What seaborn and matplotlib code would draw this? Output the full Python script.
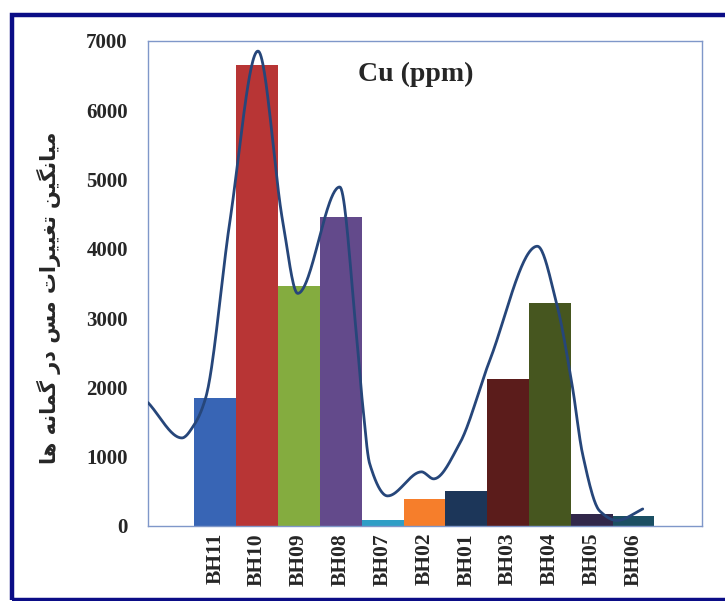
import numpy as np
import pandas as pd
import matplotlib
matplotlib.use("Agg")
import matplotlib.pyplot as plt
from matplotlib.patches import Rectangle
import seaborn as sns

# ---------------- data ----------------
categories = ["BH11", "BH10", "BH09", "BH08", "BH07", "BH02",
              "BH01", "BH03", "BH04", "BH05", "BH06"]
cu_values = [1840, 6650, 3465, 4450, 90, 390, 505, 2120, 3210, 170, 145]
bar_colors = ["#3865b5", "#b83535", "#84ac3f", "#634a8b", "#2f9ec6", "#f67e2b",
              "#1c3659", "#5b1c1b", "#46561f", "#31274a", "#1b4f63"]

# smoothed trend line (x in category units)
curve_x = [-1.61, -0.80, -0.49, -0.23, 0.35, 1.02, 1.61, 1.97, 2.975, 3.38,
           3.52, 3.69, 4.12, 4.93, 5.22, 5.84, 6.56, 7.70, 8.16, 8.54,
           8.78, 9.19, 9.60, 10.22]
curve_y = [1780, 1270, 1475, 1850, 4400, 6850, 4400, 3355, 4890, 2720,
           1765, 900, 434, 781, 680, 1186, 2386, 4035, 3211, 2000,
           1041, 217, 80, 246]

title = "Cu (ppm)"
# Persian y label: "میانگین تغییرات مس در گمانه ها" (shaped presentation forms, visual order)
ylabel_logical = ("\uFEE3\uFEF4\uFE8E\uFEE7\uFB95\uFEF4\uFEE6 "
                  "\uFE97\uFED0\uFEF4\uFEF4\uFEAE\uFE8D\uFE95 "
                  "\uFEE3\uFEB2 "
                  "\uFEA9\uFEAD "
                  "\uFB94\uFEE4\uFE8E\uFEE7\uFEEA "
                  "\uFEEB\uFE8E")
ylabel_text = ylabel_logical[::-1]


def pchip(x, y, xq):
    x = np.asarray(x, float)
    y = np.asarray(y, float)
    h = np.diff(x)
    d = np.diff(y) / h
    n = len(x)
    m = np.zeros(n)
    for k in range(1, n - 1):
        if d[k - 1] * d[k] <= 0:
            m[k] = 0.0
        else:
            w1 = 2 * h[k] + h[k - 1]
            w2 = h[k] + 2 * h[k - 1]
            m[k] = (w1 + w2) / (w1 / d[k - 1] + w2 / d[k])
    m[0] = d[0]
    m[-1] = d[-1]
    idx = np.clip(np.searchsorted(x, xq) - 1, 0, n - 2)
    t = (xq - x[idx]) / h[idx]
    h00 = 2 * t**3 - 3 * t**2 + 1
    h10 = t**3 - 2 * t**2 + t
    h01 = -2 * t**3 + 3 * t**2
    h11 = t**3 - t**2
    return (h00 * y[idx] + h10 * h[idx] * m[idx]
            + h01 * y[idx + 1] + h11 * h[idx] * m[idx + 1])


sns.set_style("white")
plt.rcParams["font.family"] = ["Liberation Serif", "DejaVu Sans"]

fig = plt.figure(figsize=(7.25, 6.01), dpi=100)
fig.patch.set_facecolor("white")

ax = fig.add_axes([0.2041, 0.1248, 0.7638, 0.8075])

df = pd.DataFrame({"hole": categories, "cu": cu_values})
sns.barplot(data=df, x="hole", y="cu", hue="hole", palette=bar_colors,
            width=1.0, saturation=1, legend=False, ax=ax, linewidth=0)

xs = np.linspace(curve_x[0], curve_x[-1], 600)
ys = pchip(curve_x, curve_y, xs)
ax.plot(xs, ys, color="#26467a", lw=2.0, solid_capstyle="round", zorder=5)

ax.set_xlim(-1.61, 11.63)
ax.set_ylim(0, 7000)
ax.set_yticks(range(0, 7001, 1000))
ax.set_xlabel("")
ax.set_ylabel("")

for s in ax.spines.values():
    s.set_color("#7f97c9")
    s.set_linewidth(1.0)
    s.set_visible(True)

ax.tick_params(axis="both", length=0)
ax.tick_params(axis="y", pad=14.5)
ax.tick_params(axis="x", pad=5)
for lab in ax.get_yticklabels():
    lab.set_fontfamily("Liberation Serif")
    lab.set_fontweight("bold")
    lab.set_fontsize(15)
ax.set_xticks(range(len(categories)))
ax.set_xticklabels(categories, rotation=90, fontfamily="Liberation Serif",
                   fontweight="bold", fontsize=15.5)

ax.text(0.483, 0.93, title, transform=ax.transAxes, ha="center", va="center",
        fontfamily="Liberation Serif", fontweight="bold", fontsize=20)

fig.text(0.068, 0.505, ylabel_text, rotation=90, ha="center", va="center",
         fontfamily="DejaVu Sans", fontweight="bold", fontsize=15)

# outer navy frame
fig.patches.append(Rectangle((11.5 / 725, 1.5 / 601), 1.2, 1 - 16.5 / 601,
                             transform=fig.transFigure, fill=False,
                             edgecolor="#0b0d86", linewidth=3.2, zorder=10))

fig.savefig("out.png", dpi=100)
